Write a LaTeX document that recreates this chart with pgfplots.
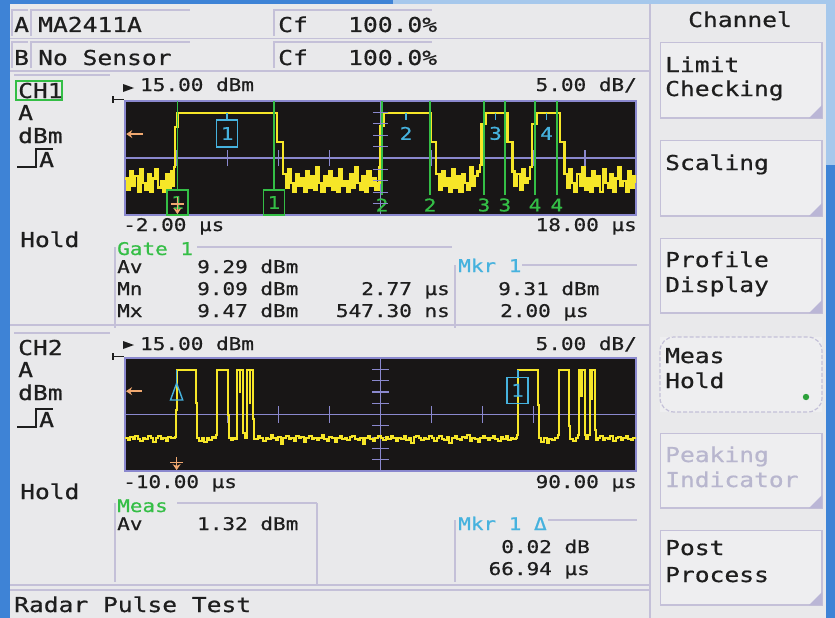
\documentclass[border=0pt]{standalone}
\usepackage{fontspec}
\usepackage{pgfplots}
\pgfplotsset{compat=1.18}
\usetikzlibrary{arrows.meta}
\newfontfamily\px[FakeStretch=1.2,FakeBold=0.7]{DejaVu Sans Mono}
\newcommand\bigf{\px\fontsize{20.5}{24}\selectfont}
\newcommand\smf{\px\fontsize{17.5}{20}\selectfont}
\definecolor{panel}{RGB}{233,233,235}
\definecolor{frameblue}{RGB}{62,131,214}
\definecolor{lightblue}{RGB}{166,200,236}
\definecolor{pline}{RGB}{196,192,216}
\definecolor{plotbg}{RGB}{24,22,22}
\definecolor{grat}{RGB}{138,136,206}
\definecolor{trace}{RGB}{246,230,40}
\definecolor{gateg}{RGB}{52,190,70}
\definecolor{mkr}{RGB}{70,178,222}
\definecolor{orangec}{RGB}{240,168,112}
\definecolor{txt}{RGB}{30,30,30}
\definecolor{dimtxt}{RGB}{184,182,206}
\definecolor{btnfill}{RGB}{238,238,240}
\definecolor{corner}{RGB}{186,182,214}
\tikzset{lbl/.style={anchor=base west, inner sep=0pt, text=txt},
         lblr/.style={anchor=base east, inner sep=0pt, text=txt}}
\newcommand\btn[2]{%
  \fill[btnfill] (660,#1) rectangle (822,#2);
  \draw[pline, line width=0.8pt] (660,#2) -- (660,#1) -- (822,#1);
  \draw[pline, line width=2pt] (660,#2) -- (822,#2) -- (822,#1);
  \fill[corner] (809,#2) -- (822,#2) -- (822,{#2-13}) -- cycle;}
\newcommand\inbox[4]{\draw[pline, line width=1.2pt] (#1,#4) -- (#1,#2) -- (#3,#2);}
\begin{document}
\begin{tikzpicture}
\begin{scope}[x=1pt,y=-1pt]
  \useasboundingbox (0,0) rectangle (835,618);
  \fill[frameblue] (0,0) rectangle (835,618);
  \fill[lightblue] (393,0) rectangle (835,4);
  \fill[lightblue] (826,0) rectangle (835,165);
  \fill[panel] (10,4) rectangle (826,618);
  % header rows
  \inbox{12}{10}{28}{36} \inbox{31}{10}{190}{36} \inbox{274}{10}{432}{36}
  \inbox{12}{42}{28}{68} \inbox{31}{42}{190}{68} \inbox{274}{42}{432}{68}
  \draw[pline, line width=1.5pt] (10,38.5) -- (650,38.5);
  \draw[pline, line width=1.5pt] (10,71) -- (650,71);
  \node[lbl, font=\bigf] at (14,32) {A};
  \node[lbl, font=\bigf] at (38,32) {MA2411A};
  \node[lbl, font=\bigf] at (278,32) {Cf};
  \node[lbl, font=\bigf] at (348,32) {100.0\%};
  \node[lbl, font=\bigf] at (14,65) {B};
  \node[lbl, font=\bigf] at (38,65) {No Sensor};
  \node[lbl, font=\bigf] at (278,65) {Cf};
  \node[lbl, font=\bigf] at (348,65) {100.0\%};
  % right column
  \draw[pline, line width=2pt] (650,4) -- (650,618);
  \node[lbl, font=\bigf] at (688,27) {Channel};
  \btn{42}{118} \btn{140}{216} \btn{238}{313} \btn{433}{508} \btn{530}{605}
  \fill[btnfill] (660,337) rectangle (822,412);
  \draw[pline, line width=1.2pt, dash pattern=on 4pt off 2pt, rounded corners=14pt] (660,337) rectangle (822,412);
  \fill[gateg!85!black] (806,397) circle (3.2);
  \node[lbl, font=\bigf] at (665,72) {Limit};
  \node[lbl, font=\bigf] at (665,96) {Checking};
  \node[lbl, font=\bigf] at (665,170) {Scaling};
  \node[lbl, font=\bigf] at (665,267) {Profile};
  \node[lbl, font=\bigf] at (665,292) {Display};
  \node[lbl, font=\bigf] at (665,363) {Meas};
  \node[lbl, font=\bigf] at (665,388) {Hold};
  \node[lbl, font=\bigf, text=dimtxt] at (665,462) {Peaking};
  \node[lbl, font=\bigf, text=dimtxt] at (665,487) {Indicator};
  \node[lbl, font=\bigf] at (665,555) {Post};
  \node[lbl, font=\bigf] at (665,582) {Process};
  % channel 1 left column
  \draw[pline, line width=1.2pt] (14,75) -- (110,75);
  \draw[gateg, line width=1.2pt] (16,81) rectangle (62,100);
  \node[lbl, font=\bigf] at (18,98) {CH1};
  \node[lbl, font=\bigf] at (18,120) {A};
  \node[lbl, font=\bigf] at (18,143) {dBm};
  \draw[txt, line width=1.3pt] (17,167) -- (36,167) -- (36,149) -- (53,149);
  \node[lbl, font=\bigf] at (39,167) {A};
  \node[lbl, font=\bigf] at (20,247) {Hold};
  % channel 1 plot labels
  \fill[txt] (123,84) -- (134,88) -- (123,92) -- cycle;
  \draw[txt, line width=1.3pt] (113,96) -- (113,103);
  \draw[txt, line width=1.3pt] (113,99.5) -- (124,99.5);
  \node[lbl, font=\smf] at (140,91) {15.00 dBm};
  \node[lblr, font=\smf] at (637,91) {5.00 dB/};
  \node[lbl, font=\smf] at (123,231) {-2.00 µs};
  \node[lblr, font=\smf] at (637,231) {18.00 µs};
  % gate box
  \draw[pline, line width=1.2pt] (197,247) -- (452,247);
  \draw[pline, line width=1.2pt] (115,247) -- (115,328);
  \draw[pline, line width=1.2pt] (455,265) -- (455,328);
  \draw[pline, line width=1.2pt] (522,265) -- (637,265);
  \node[lbl, font=\smf, text=gateg] at (117,255) {Gate 1};
  \node[lbl, font=\smf] at (117,273) {Av};
  \node[lbl, font=\smf] at (197,273) {9.29 dBm};
  \node[lbl, font=\smf] at (117,295) {Mn};
  \node[lbl, font=\smf] at (197,295) {9.09 dBm};
  \node[lblr, font=\smf] at (450,295) {2.77 µs};
  \node[lbl, font=\smf] at (117,317) {Mx};
  \node[lbl, font=\smf] at (197,317) {9.47 dBm};
  \node[lblr, font=\smf] at (450,317) {547.30 ns};
  \node[lbl, font=\smf, text=mkr] at (458,272) {Mkr 1};
  \node[lbl, font=\smf] at (498,295) {9.31 dBm};
  \node[lbl, font=\smf] at (500,317) {2.00 µs};
  % separator
  \draw[pline, line width=2.5pt] (10,325) -- (650,325);
  % channel 2 left column
  \draw[pline, line width=1.2pt] (14,333) -- (110,333);
  \node[lbl, font=\bigf] at (18,355) {CH2};
  \node[lbl, font=\bigf] at (18,377) {A};
  \node[lbl, font=\bigf] at (18,400) {dBm};
  \draw[txt, line width=1.3pt] (17,427) -- (36,427) -- (36,409) -- (53,409);
  \node[lbl, font=\bigf] at (39,427) {A};
  \node[lbl, font=\bigf] at (20,499) {Hold};
  % channel 2 plot labels
  \fill[txt] (123,341) -- (134,345) -- (123,349) -- cycle;
  \draw[txt, line width=1.3pt] (113,353) -- (113,360);
  \draw[txt, line width=1.3pt] (113,356.5) -- (124,356.5);
  \node[lbl, font=\smf] at (140,350) {15.00 dBm};
  \node[lblr, font=\smf] at (637,350) {5.00 dB/};
  \node[lbl, font=\smf] at (123,488) {-10.00 µs};
  \node[lblr, font=\smf] at (637,488) {90.00 µs};
  \draw[pline, line width=1.2pt] (177,503) -- (317,503);
  \draw[pline, line width=1.2pt] (115,503) -- (115,582);
  \draw[pline, line width=1.2pt] (317,503) -- (317,584);
  \draw[pline, line width=1.2pt] (455,520) -- (455,582);
  \draw[pline, line width=1.2pt] (548,520) -- (637,520);
  \node[lbl, font=\smf, text=gateg] at (117,512) {Meas};
  \node[lbl, font=\smf] at (117,530) {Av};
  \node[lbl, font=\smf] at (197,530) {1.32 dBm};
  \node[lbl, font=\smf, text=mkr] at (458,530) {Mkr 1 Δ};
  \node[lblr, font=\smf] at (590,553) {0.02 dB};
  \node[lblr, font=\smf] at (590,575) {66.94 µs};
  % bottom
  \draw[pline, line width=1.5pt] (10,585) -- (650,585);
  \draw[pline, line width=1.5pt] (10,590) -- (650,590);
  \node[lbl, font=\bigf] at (14,612) {Radar Pulse Test};
\end{scope}

% ---------------- plot 1 ----------------
\begin{axis}[at={(125pt,-101pt)}, anchor=north west, scale only axis,
  width=511pt, height=114pt, xmin=-2, xmax=18, ymin=-35, ymax=15,
  xtick=\empty, ytick=\empty, axis background/.style={fill=plotbg},
  axis line style={draw=grat, line width=1.6pt}, clip mode=individual]
  \draw[grat, line width=1.2pt] (axis cs:-2,-10) -- (axis cs:18,-10);
  \draw[grat, line width=1.2pt] (axis cs:8,15) -- (axis cs:8,-35);
  \pgfplotsinvokeforeach{0,2,4,6,10,12,14,16}{
    \draw[grat, line width=1.2pt] (axis cs:#1,-13.6) -- (axis cs:#1,-6.4);}
  \addplot[trace, line width=2.5pt, const plot, line join=miter] coordinates {
  (-2.0,-19) (-1.9,-24) (-1.8,-16) (-1.7,-22) (-1.6,-18) (-1.5,-25) (-1.4,-15) (-1.3,-21) (-1.2,-24) (-1.1,-17)
  (-1.0,-25) (-0.9,-19) (-0.8,-15) (-0.7,-23) (-0.6,-20) (-0.5,-25) (-0.4,-17) (-0.3,-23) (-0.2,-16)
  (-0.12,-22) (-0.08,-14) (-0.05,3.5) (0.02,3.5) (0.05,9.7) (3.9,9.7) (3.95,-3) (4.12,-3) (4.18,-17)
  (4.3,-23) (4.4,-15) (4.5,-21) (4.6,-25) (4.7,-17) (4.8,-22) (4.9,-19) (5.0,-25) (5.1,-16) (5.2,-23)
  (5.3,-18) (5.4,-24) (5.5,-14) (5.6,-21) (5.7,-25) (5.8,-18) (5.9,-22) (6.0,-16) (6.1,-24) (6.2,-19)
  (6.3,-25) (6.4,-15) (6.5,-22) (6.6,-20) (6.7,-25) (6.8,-17) (6.9,-23) (7.0,-14) (7.1,-21) (7.2,-24)
  (7.3,-18) (7.4,-25) (7.5,-16) (7.6,-22) (7.7,-19) (7.8,-24)
  (7.92,-21) (7.97,-14) (8.0,4) (8.08,4) (8.12,9.7) (9.92,9.7) (9.95,-3) (10.1,-3) (10.17,-17)
  (10.3,-24) (10.4,-16) (10.5,-22) (10.6,-19) (10.7,-25) (10.8,-15) (10.9,-23) (11.0,-18) (11.1,-25)
  (11.2,-17) (11.3,-21) (11.4,-24) (11.5,-14) (11.6,-22) (11.7,-18) (11.8,-16)
  (11.9,-13) (11.96,5) (12.05,5) (12.1,9.7) (12.95,9.7) (12.98,-3) (13.12,-3) (13.17,-16)
  (13.25,-22) (13.35,-17) (13.45,-24) (13.55,-15) (13.65,-21) (13.75,-19) (13.85,-14)
  (13.93,5) (14.05,5) (14.1,9.7) (15.0,9.7) (15.03,-3) (15.15,-3) (15.2,-17)
  (15.3,-23) (15.4,-15) (15.5,-21) (15.6,-25) (15.7,-17) (15.8,-22) (15.9,-14) (16.0,-24) (16.1,-19)
  (16.2,-25) (16.3,-16) (16.4,-22) (16.5,-18) (16.6,-25) (16.7,-15) (16.8,-21) (16.9,-23) (17.0,-17)
  (17.1,-25) (17.2,-19) (17.3,-14) (17.4,-22) (17.5,-20) (17.6,-25) (17.7,-16) (17.8,-23) (17.9,-18) (18.0,-21)
  };
  \pgfplotsinvokeforeach{8.06,9.94,12.05,12.87,14.05,14.9}{
    \draw[gateg, line width=1.6pt] (axis cs:#1,15) -- (axis cs:#1,-26.3);}
  \pgfplotsinvokeforeach{0.05,3.83}{
    \draw[gateg, line width=1.6pt] (axis cs:#1,15) -- (axis cs:#1,-24);
    \node[draw=gateg, line width=1.5pt, minimum width=21pt, minimum height=25pt, inner sep=0pt,
      text=gateg, font=\smf] at (axis cs:#1,-29.5) {1};}
  \node[text=gateg, font=\smf, inner sep=0pt] at (axis cs:8.06,-30.6) {2};
  \node[text=gateg, font=\smf, inner sep=0pt] at (axis cs:9.94,-30.6) {2};
  \node[text=gateg, font=\smf, inner sep=0pt] at (axis cs:12.05,-30.6) {3};
  \node[text=gateg, font=\smf, inner sep=0pt] at (axis cs:12.87,-30.6) {3};
  \node[text=gateg, font=\smf, inner sep=0pt] at (axis cs:14.05,-30.6) {4};
  \node[text=gateg, font=\smf, inner sep=0pt] at (axis cs:14.9,-30.6) {4};
  % markers
  \draw[mkr, line width=1.5pt] (axis cs:2,9.7) -- (axis cs:2,6.7);
  \node[draw=mkr, line width=1.5pt, minimum width=21pt, minimum height=27pt, inner sep=0pt,
    text=mkr, font=\smf] at (axis cs:2,0.75) {1};
  \pgfplotsinvokeforeach{9,12.5,14.5}{
    \draw[mkr, line width=1.5pt] (axis cs:#1,9.7) -- (axis cs:#1,6.7);}
  \node[text=mkr, font=\smf, inner sep=0pt] at (axis cs:9,0.8) {2};
  \node[text=mkr, font=\smf, inner sep=0pt] at (axis cs:12.5,0.8) {3};
  \node[text=mkr, font=\smf, inner sep=0pt] at (axis cs:14.5,0.8) {4};
  \pgfplotsinvokeforeach{-30,-25,-20,-15,-5,0,5,10}{
    \draw[grat, line width=1.2pt] (axis cs:7.7,#1) -- (axis cs:8.3,#1);}
  \draw[orangec, line width=1.6pt, -{Stealth[length=6pt,width=8pt]}] (axis cs:-1.3,0.5) -- (axis cs:-1.95,0.5);
  \draw[orangec, line width=1.6pt, -{Stealth[length=6pt,width=8pt]}] (axis cs:0.05,-27) -- (axis cs:0.05,-34.6);
  \draw[orangec, line width=1.6pt] (axis cs:-0.2,-30.3) -- (axis cs:0.3,-30.3);
\end{axis}

% ---------------- plot 2 ----------------
\begin{axis}[at={(125pt,-358pt)}, anchor=north west, scale only axis,
  width=511pt, height=113pt, xmin=-10, xmax=90, ymin=-35, ymax=15,
  xtick=\empty, ytick=\empty, axis background/.style={fill=plotbg},
  axis line style={draw=grat, line width=1.6pt}, clip mode=individual]
  \draw[grat, line width=1.2pt] (axis cs:-10,-10) -- (axis cs:90,-10);
  \draw[grat, line width=1.2pt] (axis cs:40,15) -- (axis cs:40,-35);
  \pgfplotsinvokeforeach{0,10,20,30,50,60,70,80}{
    \draw[grat, line width=1.2pt] (axis cs:#1,-13.6) -- (axis cs:#1,-6.4);}
  \pgfplotsinvokeforeach{-30,-25,-20,-15,-5,0,5,10}{
    \draw[grat, line width=1.2pt] (axis cs:38.4,#1) -- (axis cs:41.6,#1);}
  \addplot[trace, line width=2pt, const plot, line join=miter] coordinates {
  (-10,-20.5) (-9.5,-21.5) (-9,-19.9) (-8.5,-20.8) (-8,-19.4) (-7.5,-20.9) (-7,-21.8) (-6.5,-20.2)
  (-6,-20.7) (-5.5,-19.6) (-5,-20.4) (-4.5,-22.0) (-4,-20.3) (-3.5,-19.3) (-3,-20.9) (-2.5,-20.2)
  (-2,-21.6) (-1.5,-19.8) (-1,-20.6) (-0.5,-20.3)
  (-0.2,-20) (0,-8) (0.1,9.6) (3.8,9.6) (3.9,-5) (4.0,-20.5)
  (4.5,-21.7) (5,-20.2) (5.5,-22.0) (6,-20.4) (6.5,-21.1) (7,-20.1) (7.5,-20.6)
  (7.8,-19) (8.0,0) (8.1,9.6) (10.0,9.6) (10.1,-10) (10.3,-20.5)
  (10.7,-21.4) (11.2,-20.3) (11.6,-20.8)
  (11.9,-2) (12.0,9.6) (12.5,0) (12.6,9.6) (13.0,9.6) (13.1,-18) (13.4,-20.5) (13.8,-19)
  (13.95,9.6) (14.4,-5) (14.5,9.6) (15.0,9.6) (15.1,-12) (15.3,-20.8)
  (15.5,-20.8) (16,-19.7) (16.5,-20.5) (17,-21.8) (17.5,-20.2) (18,-20.9) (18.5,-19.2) (19,-20.6)
  (19.5,-21.3) (20,-20.0) (20.5,-22.9) (21,-20.4) (21.5,-19.6) (22,-20.9) (22.5,-20.3) (23,-21.6)
  (23.5,-19.7) (24,-20.6) (24.5,-20.1) (25,-22.0) (25.5,-20.5) (26,-19.4) (26.5,-20.8) (27,-20.2)
  (27.5,-21.4) (28,-20.4) (28.5,-19.1) (29,-20.7) (29.5,-21.7) (30,-20.0) (30.5,-20.6) (31,-22.3)
  (31.5,-20.3) (32,-19.6) (32.5,-20.9) (33,-20.4) (33.5,-21.5) (34,-20.1) (34.5,-19.5) (35,-20.8)
  (35.5,-21.2) (36,-20.2) (36.5,-23.1) (37,-20.5) (37.5,-19.7) (38,-20.7) (38.5,-21.6) (39,-20.3)
  (39.5,-19.4) (40,-20.6) (40.5,-21.4) (41,-20.0) (41.5,-20.9) (42,-19.3) (42.5,-20.4) (43,-21.9)
  (43.5,-20.2) (44,-20.8) (44.5,-19.7) (45,-21.3) (45.5,-20.5) (46,-22.5) (46.5,-20.1) (47,-19.5)
  (47.5,-20.6) (48,-21.5) (48.5,-20.2) (49,-20.9) (49.5,-19.6) (50,-20.4) (50.5,-21.8) (51,-20.3)
  (51.5,-19.7) (52,-20.7) (52.5,-21.2) (53,-20.1) (53.5,-22.4) (54,-20.6) (54.5,-19.4) (55,-20.8)
  (55.5,-21.4) (56,-20.0) (56.5,-20.5) (57,-19.2) (57.5,-21.7) (58,-20.3) (58.5,-20.9) (59,-22.0)
  (59.5,-20.2) (60,-19.6) (60.5,-20.6) (61,-21.3) (61.5,-20.4) (62,-19.7) (62.5,-20.8) (63,-21.6)
  (63.5,-20.1) (64,-20.7) (64.5,-19.5) (65,-21.2) (65.5,-20.3) (66,-20.8) (66.5,-20.4)
  (66.8,-19) (66.95,9.6) (70.7,9.6) (70.8,-6) (70.95,-20.6)
  (71.5,-22.1) (72,-20.3) (72.5,-22.6) (73,-20.7) (73.5,-21.4) (74.2,-20.4) (74.7,-19)
  (74.9,9.6) (76.8,9.6) (76.9,-15) (77.1,-20.7) (77.6,-21.7) (78.2,-20.6) (78.7,-19)
  (78.9,9.6) (79.3,-2) (79.4,9.6) (79.9,9.6) (80.0,-19) (80.3,-21) (80.7,-19)
  (80.9,9.6) (81.3,-3) (81.4,9.6) (81.9,9.6) (82.0,-17) (82.2,-21.2)
  (82.5,-20.6) (83,-19.6) (83.5,-21.5) (84,-20.2) (84.5,-20.9) (85,-19.4) (85.5,-21.7) (86,-20.4)
  (86.5,-20.0) (87,-21.3) (87.5,-20.5) (88,-19.5) (88.5,-20.8) (89,-21.4) (89.5,-20.3) (90,-20.6)
  };
  \draw[mkr, line width=1.4pt] (axis cs:0.1,9.6) -- (axis cs:0.1,3.8);
  \draw[mkr, line width=1.4pt] (axis cs:0.1,3.8) -- (axis cs:-1.1,-3.6) -- (axis cs:1.3,-3.6) -- cycle;
  \draw[mkr, line width=1.4pt] (axis cs:66.94,9.6) -- (axis cs:66.94,6.5);
  \node[draw=mkr, line width=1.5pt, minimum width=21pt, minimum height=26pt, inner sep=0pt,
    text=mkr, font=\smf] at (axis cs:66.8,0.7) {1};
  \draw[orangec, line width=1.6pt, -{Stealth[length=6pt,width=8pt]}] (axis cs:-6.7,0.3) -- (axis cs:-9.8,0.3);
  \draw[orangec, line width=1.6pt, -{Stealth[length=6pt,width=8pt]}] (axis cs:0.1,-29) -- (axis cs:0.1,-34.6);
  \draw[orangec, line width=1.6pt] (axis cs:-1.1,-31.2) -- (axis cs:1.3,-31.2);
\end{axis}
\end{tikzpicture}
\end{document}
